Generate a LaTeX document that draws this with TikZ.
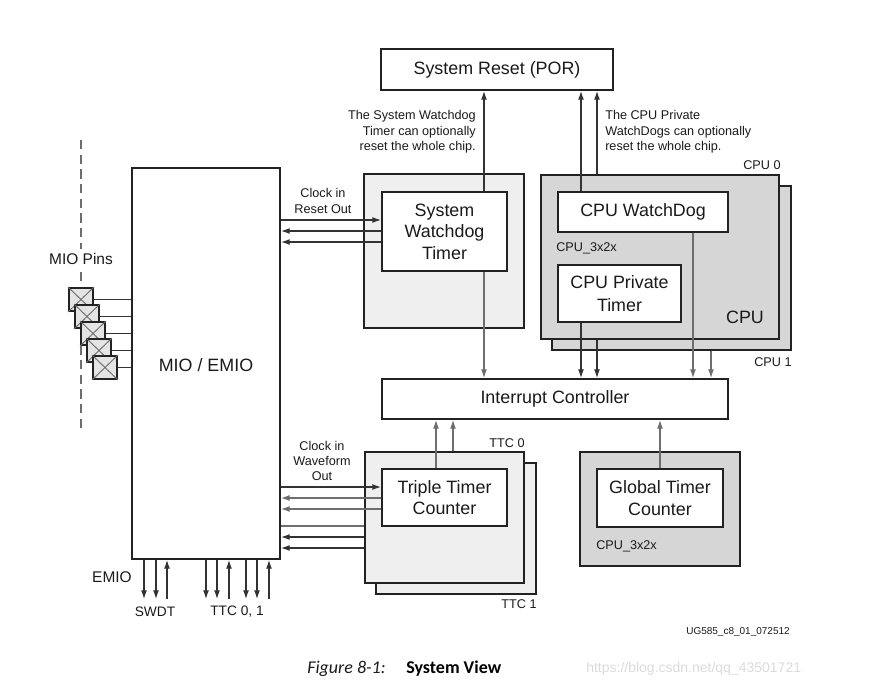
\documentclass[tikz,border=0pt]{standalone}
\usepackage{fontspec}
\setmainfont{Liberation Sans}
\newfontfamily\capfont{Carlito}
\usetikzlibrary{fit,arrows.meta}
\newcommand\dgBig{\fontsize{13.4}{16.2}\selectfont}
\newcommand\dgSmall{\fontsize{9.5}{11.6}\selectfont}
\newcommand\dgMid{\fontsize{11.6}{13}\selectfont}
\newcommand\dgLbl{\fontsize{10.3}{12}\selectfont}
\definecolor{txt}{HTML}{1A1A1A}
\definecolor{edge}{HTML}{222222}
\definecolor{dkw}{HTML}{333333}
\definecolor{gyw}{HTML}{6E6E6E}
\definecolor{lgfill}{HTML}{EFEFEF}
\definecolor{mgfill}{HTML}{D6D6D6}
\definecolor{pinfill}{HTML}{E4E4E4}
\begin{document}
\begin{tikzpicture}[x=0.75pt,y=-0.75pt,
  box/.style={draw=edge, line width=1.5pt, inner sep=0pt, fill=white},
  outerlg/.style={box, fill=lgfill},
  outermg/.style={box, fill=mgfill},
  boxtext/.style={align=center, font=\dgBig, text=txt, inner sep=0pt},
  pinbox/.style={draw=edge, line width=1.4pt, inner sep=0pt, fill=pinfill},
  small/.style={font=\dgSmall, text=txt, inner sep=0pt},
  arr/.style={-{Latex[length=6.5pt,width=4.4pt]}},
  dk/.style={draw=dkw, line width=0.8pt},
  gy/.style={draw=gyw, line width=0.8pt},
]
\useasboundingbox (0,0) rectangle (872,693);

% dashed pin line
\draw[gyw, line width=0.8pt, dash pattern=on 7pt off 4pt] (81,140) -- (81,430);

% boxes
\node[box, fit={(381,49) (613,90)}] (rst) {};
\node[boxtext] (rsttxt) at (rst.center) {System Reset (POR)};
\node[box, fit={(132,168) (280,559)}] (mio) {};
\node[boxtext] (miotxt) at (206,365) {MIO / EMIO};
\node[outerlg, fit={(364,174) (524,328)}] (swd) {};
\node[box, fit={(382,192) (507,271)}] (swdin) {};
\node[boxtext] (swdtxt) at (swdin.center) {System\\Watchdog\\Timer};
\node[outermg, fit={(552,186) (791,350)}] (cpu1) {};
\node[outermg, fit={(541,175) (779,339)}] (cpu0) {};
\node[box, fit={(558,192) (728,232)}] (wd) {};
\node[boxtext] (wdtxt) at (wd.center) {CPU WatchDog};
\node[box, fit={(558,265) (681,322)}] (pt) {};
\node[boxtext, font=\fontsize{13.4}{17}\selectfont] (pttxt) at (pt.center) {CPU Private\\Timer};
\node[box, fit={(382,379) (728,419)}] (ic) {};
\node[boxtext] (ictxt) at (ic.center) {Interrupt Controller};
\node[outerlg, fit={(376,463) (536,594)}] (ttc1) {};
\node[outerlg, fit={(365,452) (524,583)}] (ttc0) {};
\node[box, fit={(382,469) (507,526)}] (ttcin) {};
\node[boxtext] (ttctxt) at (ttcin.center) {Triple Timer\\Counter};
\node[outermg, fit={(580,452) (740,566)}] (gt) {};
\node[box, fit={(597,469) (723,527)}] (gtin) {};
\node[boxtext] (gttxt) at (gtin.center) {Global Timer\\Counter};

% labels
\node[small, align=right, anchor=east] (lswd) at (476,132) {The System Watchdog\\Timer can optionally\\reset the whole chip.};
\node[small, align=left, anchor=west] (lcpu) at (605,132) {The CPU Private\\WatchDogs can optionally\\reset the whole chip.};
\node[small] (lcpu0) at (762,165) {CPU 0};
\node[small] (lcpu1) at (773,362) {CPU 1};
\node[small, anchor=west] (lcpux) at (556,248) {CPU\_3x2x};
\node[boxtext] (lcpub) at (745,317) {CPU};
\node[small] (lttc0) at (507,443) {TTC 0};
\node[small] (lttc1) at (519,604) {TTC 1};
\node[small, align=center] (lclk1) at (323,201) {Clock in\\Reset Out};
\node[small, align=center] (lclk2) at (322,461) {Clock in\\Waveform\\Out};
\node[font=\dgMid, text=txt, fill=white, inner xsep=0pt, inner ysep=3pt] (lpins) at (81,259) {MIO Pins};
\node[font=\dgMid, text=txt, inner sep=0pt] (lemio) at (112,577) {EMIO};
\node[font=\dgLbl, text=txt, inner sep=0pt] (lswdt) at (155,612) {SWDT};
\node[font=\dgLbl, text=txt, inner sep=0pt] (lttc) at (237,612) {TTC 0, 1};
\node[small, anchor=west] (lgtx) at (596,546) {CPU\_3x2x};
\node[font=\fontsize{7.5}{9}\selectfont, text=txt, inner sep=0pt] (lug) at (738,632) {UG585\_c8\_01\_072512};
\node[font=\capfont\itshape\fontsize{13.5}{16}\selectfont, text=txt, anchor=west, inner sep=0pt] (cap1) at (307,669) {Figure 8-1:};
\node[font=\capfont\bfseries\fontsize{13.5}{16}\selectfont, text=black, anchor=west, inner sep=0pt] (cap2) at (406,669) {System View};
\node[font=\fontsize{10.5}{12}\selectfont, text=black!14, anchor=west, inner sep=0pt] (wm) at (586,669) {https://blog.csdn.net/qq\_43501721};

% MIO pins
\foreach \i in {0,...,4}{
  \node[pinbox, fit={({69+6*\i},{288+17*\i}) ({93+6*\i},{311+17*\i})}] (p\i) {};
  \draw[gyw, line width=0.7pt] (p\i.north west) -- (p\i.south east) (p\i.north east) -- (p\i.south west);
  \draw[dkw, line width=0.8pt] (p\i.east) -- (p\i.east -| mio.west);
}

% x / y helper coordinates
\coordinate (c484) at (484,0);
\coordinate (c581) at (581,0);
\coordinate (c597) at (597,0);
\coordinate (c693) at (693,0);
\coordinate (c711) at (711,0);
\coordinate (c436) at (436,0);
\coordinate (c453) at (453,0);
\coordinate (c660) at (660,0);
\coordinate (r220) at (0,220);
\coordinate (r231) at (0,231);
\coordinate (r242) at (0,242);
\coordinate (r487) at (0,487);
\coordinate (r498) at (0,498);
\coordinate (r509) at (0,509);
\coordinate (r526) at (0,526);
\coordinate (r537) at (0,537);
\coordinate (r548) at (0,548);

% vertical connectors
\draw[dk, arr] (swdin.north -| c484) -- (rst.south -| c484);
\draw[gy, arr] (swdin.south -| c484) -- (ic.north -| c484);
\draw[dk, arr] (wd.north -| c581) -- (rst.south -| c581);
\draw[dk, arr] (cpu0.north -| c597) -- (rst.south -| c597);
\draw[dk, arr] (pt.south -| c581) -- (ic.north -| c581);
\draw[dk, arr] (cpu0.south -| c597) -- (ic.north -| c597);
\draw[gy, arr] (wd.south -| c693) -- (ic.north -| c693);
\draw[gy, arr] (cpu1.south -| c711) -- (ic.north -| c711);
\draw[gy, arr] (ttcin.north -| c436) -- (ic.south -| c436);
\draw[gy, arr] (ttc0.north -| c453) -- (ic.south -| c453);
\draw[gy, arr] (gtin.north -| c660) -- (ic.south -| c660);

% horizontal connectors
\draw[dk, arr] (mio.east |- r220) -- (swdin.west |- r220);
\draw[dk, arr] (swdin.west |- r231) -- (mio.east |- r231);
\draw[dk, arr] (swdin.west |- r242) -- (mio.east |- r242);
\draw[dk, arr] (mio.east |- r487) -- (ttcin.west |- r487);
\draw[gy, arr] (ttcin.west |- r498) -- (mio.east |- r498);
\draw[gy, arr] (ttcin.west |- r509) -- (mio.east |- r509);
\draw[gy] (ttc0.west |- r526) -- (mio.east |- r526);
\draw[dk, arr] (ttc0.west |- r537) -- (mio.east |- r537);
\draw[dk, arr] (ttc0.west |- r548) -- (mio.east |- r548);

% EMIO bottom arrows
\foreach \x in {144,156,206,217,246,257}{
  \coordinate (e\x) at (\x,599);
  \draw[dk, arr] (mio.south -| e\x) -- (e\x);
}
\foreach \x in {167,229,269}{
  \coordinate (e\x) at (\x,599);
  \draw[dk, arr] (e\x) -- (mio.south -| e\x);
}
\end{tikzpicture}
\end{document}
